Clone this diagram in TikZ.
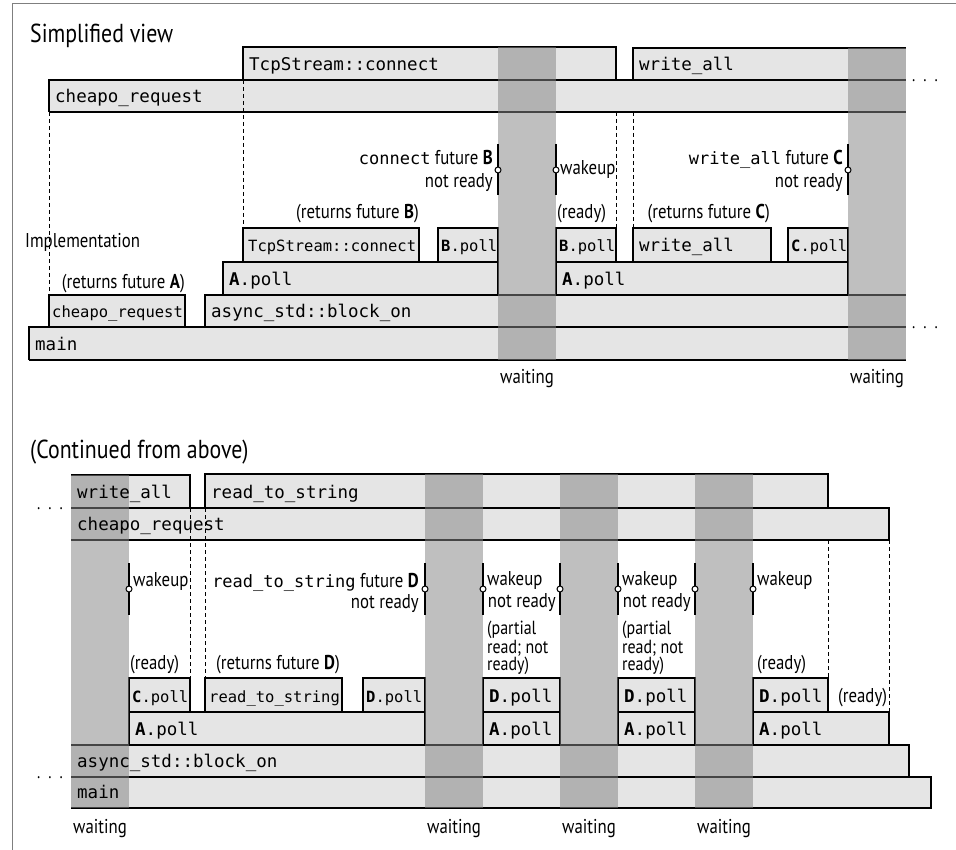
\documentclass[tikz,border=0pt]{standalone}
\usepackage{fontspec}
\setmainfont{PT Sans}[FakeStretch=0.84]
\setmonofont{DejaVu Sans Mono}
\definecolor{boxgray}{HTML}{E5E5E5}
\definecolor{framegray}{HTML}{7F7F7F}
\definecolor{waitgray}{RGB}{133,133,133}
\newcommand{\mono}[1]{{\fontsize{17}{20}\selectfont\ttfamily #1}}
\tikzset{
  fnline/.style={line width=1.6pt},
  fnlabel/.style={anchor=base west, inner sep=0pt, font=\fontsize{17.5}{20}\selectfont\ttfamily},
  fnsmall/.style={anchor=base west, inner sep=0pt, font=\fontsize{15.5}{18}\selectfont\ttfamily},
  note/.style={inner sep=0pt, font=\fontsize{20}{22}\selectfont},
  partial/.style={anchor=north west, align=left, inner sep=0pt, font=\fontsize{19}{15.5}\selectfont},
  heading/.style={anchor=base west, inner sep=0pt, font=\fontsize{26}{30}\selectfont},
  waitcol/.style={fill=waitgray, fill opacity=0.525},
  waitbar/.style={line width=2.2pt},
  knob/.style={fill=white, draw=black, line width=1pt},
  guide/.style={line width=0.8pt, dash pattern=on 4pt off 3pt},
  more/.style={inner sep=0pt, anchor=base, font=\fontsize{18}{20}\selectfont}
}
\begin{document}
\begin{tikzpicture}[x=1pt, y=-1pt]
  \useasboundingbox (0,0) rectangle (956,850);
  \draw[framegray, line width=1pt] (12,850) -- (12,4) -- (956,4);

  % simplified view: fills
  \fill[boxgray] (243,47) rectangle (616,80);
  \fill[boxgray] (633,48) rectangle (906,80);
  \fill[boxgray] (49,80) rectangle (906,112);
  \fill[boxgray] (243,228) rectangle (419,262);
  \fill[boxgray] (438,228) rectangle (498,262);
  \fill[boxgray] (556,228) rectangle (616,262);
  \fill[boxgray] (633,228) rectangle (771,262);
  \fill[boxgray] (788,228) rectangle (848,262);
  \fill[boxgray] (223,262) rectangle (498,295);
  \fill[boxgray] (556,262) rectangle (848,295);
  \fill[boxgray] (49,295) rectangle (185,327);
  \fill[boxgray] (205,295) rectangle (906,327);
  \fill[boxgray] (29,327) rectangle (906,360);

  \draw[guide] (243,80) -- (243,228);
  \draw[guide] (49,112) -- (49,295);
  \draw[guide] (616,112) -- (616,228);
  \draw[guide] (633,112) -- (633,228);

  \draw[fnline] (243,80) -- (243,47) -- (616,47) -- (616,80);
  \draw[fnline] (633,80) -- (633,48) -- (906,48);
  \draw[fnline] (49,112) -- (49,80) -- (906,80);
  \draw[fnline] (49,112) -- (906,112);
  \draw[fnline] (243,262) -- (243,228) -- (419,228) -- (419,262);
  \draw[fnline] (438,262) -- (438,228) -- (498,228) -- (498,262);
  \draw[fnline] (556,262) -- (556,228) -- (616,228) -- (616,262);
  \draw[fnline] (633,262) -- (633,228) -- (771,228) -- (771,262);
  \draw[fnline] (788,262) -- (788,228) -- (848,228) -- (848,262);
  \draw[fnline] (223,295) -- (223,262) -- (498,262) -- (498,295);
  \draw[fnline] (556,295) -- (556,262) -- (848,262) -- (848,295);
  \draw[fnline] (49,327) -- (49,295) -- (185,295) -- (185,327);
  \draw[fnline] (205,327) -- (205,295) -- (906,295);
  \draw[fnline] (29,360) -- (29,327) -- (906,327);
  \draw[fnline] (29,360) -- (906,360);

  \fill[waitcol] (498,47) rectangle (556,360);
  \fill[waitcol] (848,48) rectangle (906,360);

  \draw[waitbar] (498,144) -- (498,195);
  \draw[knob] (498,170) circle (3);
  \draw[waitbar] (556,144) -- (556,195);
  \draw[knob] (556,170) circle (3);
  \draw[waitbar] (848,144) -- (848,195);
  \draw[knob] (848,170) circle (3);

  \node[heading] (simplified) at (30,43) {Simplified view};
  \node[fnlabel] (tcpcall) at (249,70.5) {TcpStream::connect};
  \node[fnlabel] (writecall) at (639,70.5) {write\_all};
  \node[fnlabel] (cheapocall) at (55,102.5) {cheapo\_request};
  \node[fnsmall] (tcpimpl) at (248,252) {TcpStream::connect};
  \node[fnsmall] (bpolla) at (441,252) {\textbf{B}.poll};
  \node[fnsmall] (bpollb) at (559,252) {\textbf{B}.poll};
  \node[fnlabel] (writeimpl) at (639,252) {write\_all};
  \node[fnsmall] (cpolla) at (791,252) {\textbf{C}.poll};
  \node[fnlabel] (apolla) at (229,285.5) {\textbf{A}.poll};
  \node[fnlabel] (apollb) at (562,285.5) {\textbf{A}.poll};
  \node[fnsmall] (cheapoimpl) at (52,317.5) {cheapo\_request};
  \node[fnlabel] (blockon) at (211,317.5) {async\_std::block\_on};
  \node[fnlabel] (mainrow) at (35,350.5) {main};

  \node[note, anchor=base west] (impl) at (25,248) {Implementation};
  \node[note, anchor=base east] (retA) at (185,289) {(returns future \textbf{A})};
  \node[note, anchor=base east] (retB) at (419,219) {(returns future \textbf{B})};
  \node[note, anchor=base west] (readyB) at (557,219) {(ready)};
  \node[note, anchor=base east] (retC) at (770,219) {(returns future \textbf{C})};
  \node[note, anchor=base east] (futB) at (493,165) {\mono{connect} future \textbf{B}};
  \node[note, anchor=base east] (futBnr) at (493,188) {not ready};
  \node[note, anchor=base west] (wakeB) at (560,175) {wakeup};
  \node[note, anchor=base east] (futC) at (843,165) {\mono{write\_all} future \textbf{C}};
  \node[note, anchor=base east] (futCnr) at (843,188) {not ready};
  \node[note, anchor=base] (waitA) at (527,383) {waiting};
  \node[note, anchor=base] (waitB) at (877,383) {waiting};
  \node[more] (moreA) at (925,81.5) {.\hspace{8pt}.\hspace{8pt}.};
  \node[more] (moreB) at (925,328.5) {.\hspace{8pt}.\hspace{8pt}.};

  % continued: fills
  \fill[boxgray] (71,475) rectangle (190,508);
  \fill[boxgray] (205,474) rectangle (828,508);
  \fill[boxgray] (71,508) rectangle (889,540);
  \fill[boxgray] (129,678) rectangle (190,712);
  \fill[boxgray] (205,678) rectangle (342,712);
  \fill[boxgray] (363,678) rectangle (425,712);
  \fill[boxgray] (129,712) rectangle (425,745);
  \fill[boxgray] (483,678) rectangle (560,745);
  \fill[boxgray] (618,678) rectangle (695,745);
  \fill[boxgray] (753,678) rectangle (828,712);
  \fill[boxgray] (753,712) rectangle (889,745);
  \fill[boxgray] (71,745) rectangle (909,777);
  \fill[boxgray] (71,777) rectangle (931,808);

  \draw[guide] (190,508) -- (190,678);
  \draw[guide] (205,508) -- (205,678);
  \draw[guide] (828,540) -- (828,678);
  \draw[guide] (889,540) -- (889,712);

  \draw[fnline] (71,475) -- (190,475) -- (190,508);
  \draw[fnline] (205,508) -- (205,474) -- (828,474) -- (828,508);
  \draw[fnline] (71,508) -- (889,508) -- (889,540) -- (71,540);
  \draw[fnline] (129,712) -- (129,678) -- (190,678) -- (190,712);
  \draw[fnline] (205,712) -- (205,678) -- (342,678) -- (342,712);
  \draw[fnline] (363,712) -- (363,678) -- (425,678) -- (425,712);
  \draw[fnline] (129,745) -- (129,712) -- (425,712) -- (425,745);
  \draw[fnline] (483,745) -- (483,678) -- (560,678) -- (560,745);
  \draw[fnline] (483,712) -- (560,712);
  \draw[fnline] (618,745) -- (618,678) -- (695,678) -- (695,745);
  \draw[fnline] (618,712) -- (695,712);
  \draw[fnline] (753,712) -- (753,678) -- (828,678) -- (828,712);
  \draw[fnline] (753,745) -- (753,712) -- (889,712) -- (889,745);
  \draw[fnline] (71,745) -- (909,745) -- (909,777);
  \draw[fnline] (71,777) -- (931,777) -- (931,808) -- (71,808);

  \fill[waitcol] (71,475) rectangle (129,808);
  \fill[waitcol] (425,474) rectangle (483,808);
  \fill[waitcol] (560,474) rectangle (618,808);
  \fill[waitcol] (695,474) rectangle (753,808);

  \draw[waitbar] (129,563) -- (129,615);
  \draw[knob] (129,589) circle (3);
  \draw[waitbar] (425,563) -- (425,615);
  \draw[knob] (425,589) circle (3);
  \draw[waitbar] (483,563) -- (483,615);
  \draw[knob] (483,589) circle (3);
  \draw[waitbar] (560,563) -- (560,615);
  \draw[knob] (560,589) circle (3);
  \draw[waitbar] (618,563) -- (618,615);
  \draw[knob] (618,589) circle (3);
  \draw[waitbar] (695,563) -- (695,615);
  \draw[knob] (695,589) circle (3);
  \draw[waitbar] (753,563) -- (753,615);
  \draw[knob] (753,589) circle (3);

  \node[heading] (continued) at (30,458) {(Continued from above)};
  \node[fnlabel] (writecont) at (77,498) {write\_all};
  \node[fnlabel] (readcall) at (211,498) {read\_to\_string};
  \node[fnlabel] (cheapocont) at (77,530.5) {cheapo\_request};
  \node[fnsmall] (cpollb) at (132,702) {\textbf{C}.poll};
  \node[fnsmall] (readimpl) at (209,702) {read\_to\_string};
  \node[fnsmall] (dpolla) at (366,702) {\textbf{D}.poll};
  \node[fnlabel] (dpollb) at (489,702) {\textbf{D}.poll};
  \node[fnlabel] (dpollc) at (624,702) {\textbf{D}.poll};
  \node[fnlabel] (dpolld) at (759,702) {\textbf{D}.poll};
  \node[fnlabel] (apollc) at (135,735) {\textbf{A}.poll};
  \node[fnlabel] (apolld) at (489,735) {\textbf{A}.poll};
  \node[fnlabel] (apolle) at (624,735) {\textbf{A}.poll};
  \node[fnlabel] (apollf) at (759,735) {\textbf{A}.poll};
  \node[fnlabel] (blockcont) at (77,767) {async\_std::block\_on};
  \node[fnlabel] (maincont) at (77,798) {main};

  \node[note, anchor=base west] (wakeC) at (133,586) {wakeup};
  \node[note, anchor=base east] (futD) at (419,587) {\mono{read\_to\_string} future \textbf{D}};
  \node[note, anchor=base east] (futDnr) at (419,608) {not ready};
  \node[note, anchor=base west] (wakeDa) at (487,585) {wakeup};
  \node[note, anchor=base east] (nrDa) at (556,607) {not ready};
  \node[note, anchor=base west] (wakeDb) at (622,585) {wakeup};
  \node[note, anchor=base east] (nrDb) at (691,607) {not ready};
  \node[note, anchor=base west] (wakeDc) at (757,585) {wakeup};
  \node[partial] (partA) at (487,621) {(partial\\read; not\\ready)};
  \node[partial] (partB) at (622,621) {(partial\\read; not\\ready)};
  \node[note, anchor=base west] (readyC) at (130,669) {(ready)};
  \node[note, anchor=base east] (retD) at (340,669) {(returns future \textbf{D})};
  \node[note, anchor=base west] (readyD) at (757,669) {(ready)};
  \node[note, anchor=base west] (readyA) at (838,702) {(ready)};
  \node[note, anchor=base] (waitC) at (100,833) {waiting};
  \node[note, anchor=base] (waitD) at (454,833) {waiting};
  \node[note, anchor=base] (waitE) at (589,833) {waiting};
  \node[note, anchor=base] (waitF) at (724,833) {waiting};
  \node[more] (moreC) at (50,509.5) {.\hspace{8pt}.\hspace{8pt}.};
  \node[more] (moreD) at (50,778.5) {.\hspace{8pt}.\hspace{8pt}.};
\end{tikzpicture}
\end{document}
